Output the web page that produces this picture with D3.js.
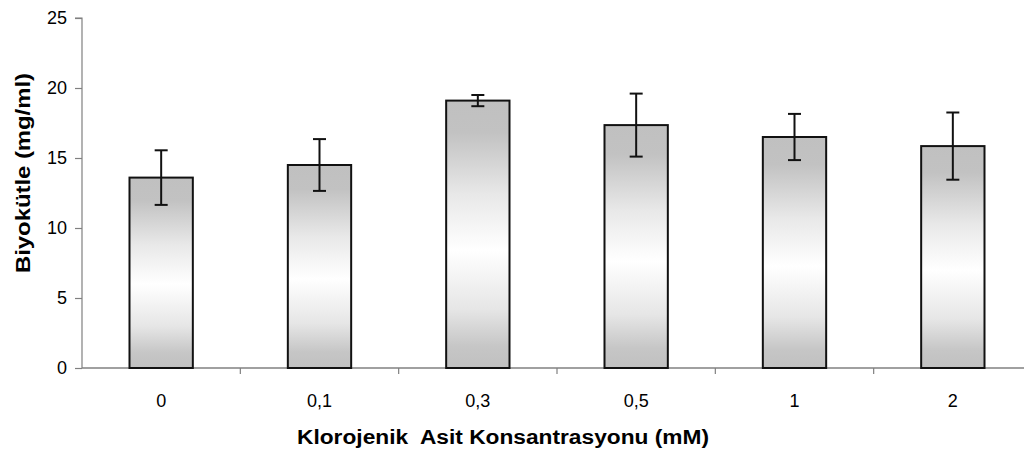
<!DOCTYPE html>
<html>
<head>
<meta charset="utf-8">
<script src="https://cdn.jsdelivr.net/npm/d3@7"></script>
<style>
  html, body { margin: 0; padding: 0; background: #fff; }
  svg { display: block; }
</style>
</head>
<body>
<svg id="chart" width="1024" height="453"></svg>
<script>
const categories = ["0", "0,1", "0,3", "0,5", "1", "2"];
const means = [13.6, 14.5, 19.1, 17.35, 16.5, 15.85];
const errors = [1.95, 1.85, 0.4, 2.25, 1.65, 2.4];
const yTicks = [0, 5, 10, 15, 20, 25];
const xTitle = "Klorojenik  Asit Konsantrasyonu (mM)";
const yTitle = "Biyokütle (mg/ml)";

const svg = d3.select("#chart");
const mLeft = 82, mRight = 1032, mTop = 18, mBottom = 368;

const x = d3.scaleBand().domain(categories).range([mLeft, mRight]).paddingInner(0.6).paddingOuter(0.3);
const y = d3.scaleLinear().domain([0, 25]).range([mBottom, mTop]);

const defs = svg.append("defs");
const grad = defs.append("linearGradient").attr("id", "barGrad")
  .attr("x1", 0).attr("y1", 0).attr("x2", 0).attr("y2", 1);
[[0, "#c0c0c0"], [0.12, "#c2c2c2"], [0.35, "#e8e8e8"], [0.56, "#ffffff"], [0.78, "#e6e6e6"], [0.92, "#c6c6c6"], [1, "#c0c0c0"]]
  .forEach(([o, c]) => grad.append("stop").attr("offset", o).attr("stop-color", c));

// Y axis
const yAxis = d3.axisLeft(y).tickValues(yTicks).tickSize(7).tickPadding(8).tickFormat(d3.format("d"));
const gy = svg.append("g").attr("transform", `translate(${mLeft},0)`).call(yAxis);
gy.select(".domain").attr("stroke", "#808080").attr("stroke-width", 1.2).attr("d", `M-7,${mTop}H0V${mBottom}`);
gy.selectAll(".tick line").attr("stroke", "#808080").attr("stroke-width", 1.2);
gy.selectAll(".tick text").attr("font-family", "Liberation Sans, Arial, sans-serif").attr("font-size", 18).attr("fill", "#000");

// X axis
const boundaries = d3.range(categories.length + 1).map(i => mLeft + i * x.step());
const gx = svg.append("g");
gx.append("line").attr("x1", mLeft).attr("x2", mRight).attr("y1", mBottom).attr("y2", mBottom)
  .attr("stroke", "#808080").attr("stroke-width", 1.5);
gx.selectAll("line.tk").data(boundaries.slice(1)).join("line").attr("class", "tk")
  .attr("x1", d => d).attr("x2", d => d).attr("y1", mBottom).attr("y2", mBottom + 6)
  .attr("stroke", "#808080").attr("stroke-width", 1.2);
gx.selectAll("text").data(categories).join("text")
  .attr("x", d => x(d) + x.bandwidth() / 2).attr("y", 407)
  .attr("text-anchor", "middle")
  .attr("font-family", "Liberation Sans, Arial, sans-serif").attr("font-size", 18).attr("fill", "#000")
  .text(d => d);

// Bars
svg.append("g").selectAll("rect").data(categories).join("rect")
  .attr("x", d => x(d)).attr("width", x.bandwidth())
  .attr("y", (d, i) => y(means[i])).attr("height", (d, i) => y(0) - y(means[i]))
  .attr("fill", "url(#barGrad)").attr("stroke", "#111").attr("stroke-width", 2);

// Error bars
const eb = svg.append("g").attr("stroke", "#111").attr("stroke-width", 2);
categories.forEach((c, i) => {
  const cx = x(c) + x.bandwidth() / 2;
  const hi = y(means[i] + errors[i]), lo = y(means[i] - errors[i]);
  eb.append("line").attr("x1", cx).attr("x2", cx).attr("y1", hi).attr("y2", lo);
  eb.append("line").attr("x1", cx - 6.5).attr("x2", cx + 6.5).attr("y1", hi).attr("y2", hi);
  eb.append("line").attr("x1", cx - 6.5).attr("x2", cx + 6.5).attr("y1", lo).attr("y2", lo);
});

// Titles
svg.append("text").attr("x", 297).attr("y", 444).attr("text-anchor", "start")
  .attr("font-family", "Liberation Sans, Arial, sans-serif").attr("font-weight", "bold").attr("font-size", 20)
  .attr("textLength", 412).attr("lengthAdjust", "spacingAndGlyphs")
  .style("white-space", "pre").text(xTitle);
svg.append("text").attr("transform", "translate(30,173) rotate(-90)").attr("text-anchor", "middle")
  .attr("font-family", "Liberation Sans, Arial, sans-serif").attr("font-weight", "bold").attr("font-size", 20)
  .attr("textLength", 200).attr("lengthAdjust", "spacingAndGlyphs")
  .text(yTitle);
</script>
</body>
</html>
